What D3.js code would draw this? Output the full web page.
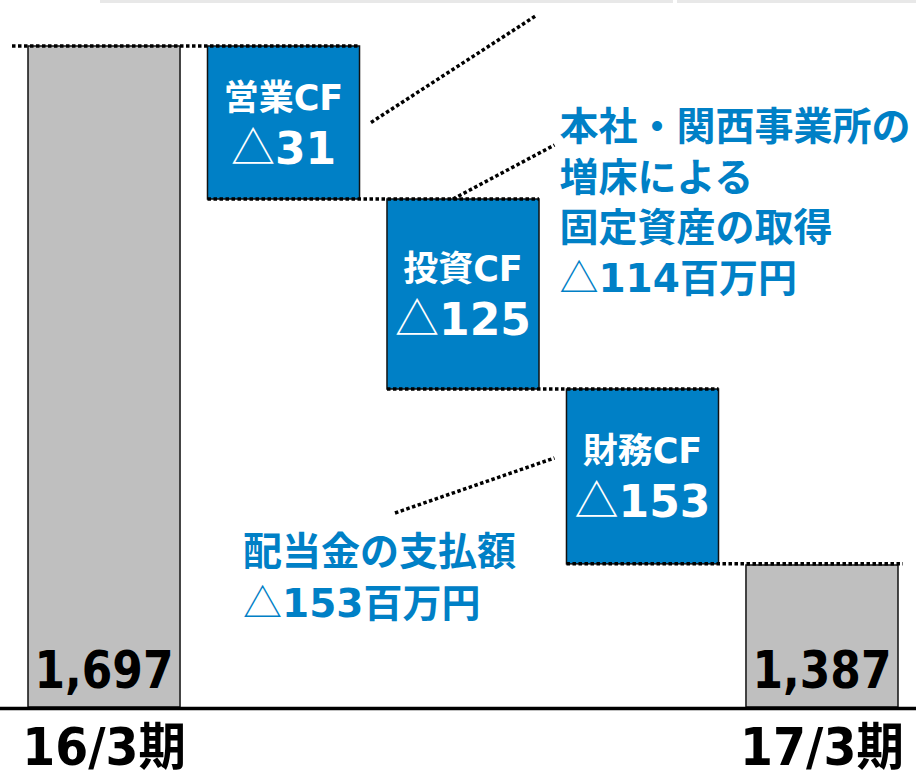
<!DOCTYPE html>
<html lang="ja">
<head>
<meta charset="UTF-8">
<title>キャッシュ・フローの増減</title>
<script src="https://cdn.jsdelivr.net/npm/d3@7"></script>
<style>
  body { margin: 0; background: #fff; }
  svg { display: block; }
</style>
</head>
<body>
<svg width="916" height="774"></svg>
<script>
// values (百万円)
const categories = ["16/3期", "営業CF", "投資CF", "財務CF", "17/3期"];
const values = [1697, -31, -125, -153, 1387];
const isTotal = [true, false, false, false, true];
const investNote = ["本社・関西事業所の", "増床による", "固定資産の取得", "△114百万円"];
const financeNote = ["配当金の支払額", "△153百万円"];

// the slide is not drawn to scale, so the y scale is piecewise
const yLevels = [0, 1387, 1541, 1666, 1697];
const yStops = [707, 565, 389, 199, 46];

const blue = "#0080c6", grey = "#bfbfbf";
const jp = "'Noto Sans CJK JP', sans-serif";
const latin = "'DejaVu Sans', 'Noto Sans CJK JP', sans-serif";

const svg = d3.select("svg"),
      width = +svg.attr("width");

const x = d3.scaleBand().domain(categories).range([28, 898]).paddingInner(0.153);
const y = d3.scaleLinear().domain(yLevels).range(yStops);
const bw = x.bandwidth();

// running totals for the waterfall
let run = 0;
const bars = categories.map((c, i) => {
  let y0, y1;
  if (isTotal[i]) { y0 = 0; y1 = values[i]; }
  else { y0 = run; y1 = run + values[i]; }
  run = y1;
  return {cat: c, value: values[i], total: isTotal[i], lo: Math.min(y0, y1), hi: Math.max(y0, y1), end: y1};
});

// faint rule left over at the top of the slide
svg.append("rect").attr("x", 100).attr("y", 0).attr("width", 573).attr("height", 3).attr("fill", "#e8e8e8");
svg.append("rect").attr("x", 677).attr("y", 0).attr("width", width - 677).attr("height", 3).attr("fill", "#e8e8e8");

// bars
svg.selectAll(".bar")
  .data(bars)
  .enter().append("rect")
  .attr("class", "bar")
  .attr("x", d => x(d.cat))
  .attr("y", d => y(d.hi))
  .attr("width", bw)
  .attr("height", d => y(d.lo) - y(d.hi))
  .attr("fill", d => d.total ? grey : blue)
  .attr("stroke", "#111")
  .attr("stroke-width", 1.5);

// dotted connectors between bars
const dots = {stroke: "#000", "stroke-width": 3.5, "stroke-dasharray": "3.5,2.5"};
function dotted(sel) {
  Object.entries(dots).forEach(([k, v]) => sel.attr(k, v));
  return sel;
}
bars.slice(0, -1).forEach((d, i) => {
  const next = bars[i + 1];
  dotted(svg.append("line")
    .attr("x1", x(d.cat) - (i === 0 ? 16 : 0))
    .attr("x2", x(next.cat) + bw + (i === bars.length - 2 ? 5 : 0))
    .attr("y1", y(d.end))
    .attr("y2", y(d.end)));
});

// baseline
svg.append("line")
  .attr("x1", 0).attr("x2", width)
  .attr("y1", y(0) + 1.5).attr("y2", y(0) + 1.5)
  .attr("stroke", "#000").attr("stroke-width", 3.5);

// x axis: only the two period labels
const xAxis = d3.axisBottom(x)
  .tickValues([categories[0], categories[categories.length - 1]])
  .tickSize(0);
const ax = svg.append("g")
  .attr("transform", `translate(0,${y(0)})`)
  .call(xAxis);
ax.select(".domain").remove();
ax.selectAll("text")
  .attr("y", 58).attr("dy", null)
  .attr("transform", "scale(0.93,1)")
  .attr("fill", "#000")
  .style("font-family", latin)
  .style("font-weight", "bold")
  .style("font-size", "51px");

// totals inside grey bars
svg.selectAll(".total-label")
  .data(bars.filter(d => d.total))
  .enter().append("text")
  .attr("class", "total-label")
  .attr("transform", d => `translate(${x(d.cat) + bw / 2},${y(0) - 19}) scale(0.845,1)`)
  .attr("text-anchor", "middle")
  .style("font-family", latin)
  .style("font-weight", "bold")
  .style("font-size", "52px")
  .attr("fill", "#000")
  .text(d => d3.format(",")(d.value));

// names and amounts inside the blue bars
const deltas = bars.filter(d => !d.total);
svg.selectAll(".delta-name")
  .data(deltas)
  .enter().append("text")
  .attr("class", "delta-name")
  .attr("x", d => x(d.cat) + bw / 2)
  .attr("y", d => (y(d.lo) + y(d.hi)) / 2 - 13)
  .attr("text-anchor", "middle")
  .attr("fill", "#fff")
  .style("font-family", latin)
  .style("font-weight", "bold")
  .style("font-size", "35px")
  .text(d => d.cat);

const amt = svg.selectAll(".delta-value")
  .data(deltas)
  .enter().append("text")
  .attr("class", "delta-value")
  .attr("x", d => x(d.cat) + bw / 2)
  .attr("y", d => (y(d.lo) + y(d.hi)) / 2 + 41)
  .attr("text-anchor", "middle")
  .attr("fill", "#fff");
amt.append("tspan")
  .style("font-family", jp).style("font-size", "44px").style("font-weight", "normal")
  .text("△");
amt.append("tspan")
  .style("font-family", latin).style("font-size", "44px").style("font-weight", "bold")
  .text(d => Math.abs(d.value));

// annotations
function note(lines, x0, y0, step) {
  const t = svg.append("g");
  lines.forEach((s, i) => {
    const txt = t.append("text")
      .attr("x", x0).attr("y", y0 + i * step)
      .attr("fill", blue)
      .style("font-weight", "bold")
      .style("font-size", "39px");
    if (s.startsWith("△")) {
      txt.append("tspan").style("font-family", jp).style("font-weight", "normal").text("△");
      const m = s.slice(1).match(/^(\d+)(.*)$/);
      txt.append("tspan").style("font-family", latin).text(m[1]);
      txt.append("tspan").style("font-family", jp).text(m[2]);
    } else {
      txt.style("font-family", jp).text(s);
    }
  });
}
note(investNote, x("財務CF") - 7, y(1666) - 59, 50.7);
note(financeNote, x("投資CF") - 144, y(1388) + 1, 52);

// leader lines
const lead = (x1, y1, x2, y2) => dotted(svg.append("line")
  .attr("x1", x1).attr("y1", y1).attr("x2", x2).attr("y2", y2));
lead(x("投資CF") - 16, (y(1697) + y(1666)) / 2, x("投資CF") + 150, y(1697) - 31);
lead(x("投資CF") + 66, y(1666), x("財務CF") - 12, y(1666) - 54);
lead(x("投資CF") + 8, y(1541) + 124, x("財務CF") - 12, y(1541) + 69);
</script>
</body>
</html>
